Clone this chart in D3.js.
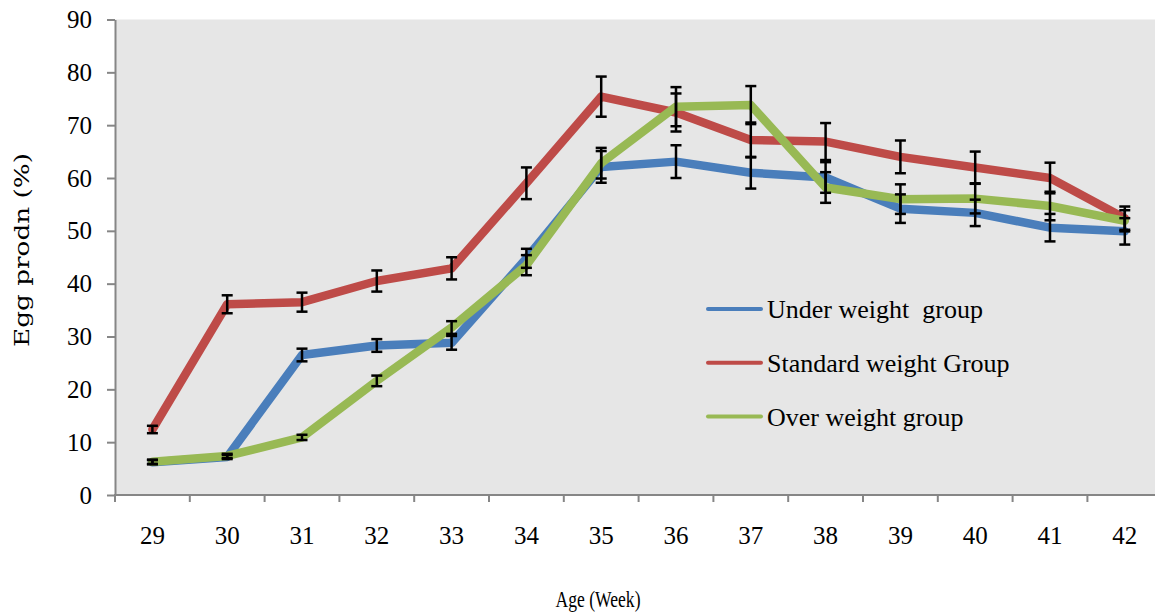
<!DOCTYPE html>
<html>
<head>
<meta charset="utf-8">
<script src="https://cdn.jsdelivr.net/npm/d3@7"></script>
<style>
  html, body { margin: 0; padding: 0; background: #ffffff; }
  svg { display: block; }
</style>
</head>
<body>
<svg id="chart" width="1155" height="612"></svg>
<script>
// Age in weeks (category axis)
const weeks = [29, 30, 31, 32, 33, 34, 35, 36, 37, 38, 39, 40, 41, 42];

// Egg production (%) per group
const underWeight    = [6.2, 7.2, 26.5, 28.3, 28.8, 44.8, 62.1, 63.1, 61.0, 60.1, 54.2, 53.4, 50.6, 49.9];
const standardWeight = [12.4, 36.1, 36.5, 40.5, 42.9, 59.0, 75.4, 72.4, 67.2, 66.9, 64.0, 62.0, 60.0, 52.4];
const overWeight     = [6.3, 7.4, 10.9, 21.6, 31.7, 43.5, 62.8, 73.5, 73.8, 58.2, 56.0, 56.1, 54.7, 51.9];

// Error bar half-widths (±)
const underErr    = [0.4, 0.4, 1.2, 1.2, 1.3, 1.8, 3.0, 3.1, 3.0, 2.9, 2.7, 2.5, 2.6, 2.5];
const standardErr = [0.7, 1.7, 1.8, 2.0, 2.1, 3.0, 3.8, 3.6, 3.3, 3.5, 3.1, 3.0, 2.9, 2.2];
const overErr     = [0.4, 0.4, 0.5, 1.0, 1.2, 1.9, 2.9, 3.7, 3.6, 2.9, 2.8, 2.8, 2.7, 2.0];

const seriesNames = ["Under weight  group", "Standard weight Group", "Over weight group"];
const yTicks = [0, 10, 20, 30, 40, 50, 60, 70, 80, 90];

const series = [
  { name: seriesNames[0], values: underWeight,    err: underErr,    color: "#4a7ebb" },
  { name: seriesNames[1], values: standardWeight, err: standardErr, color: "#be4b48" },
  { name: seriesNames[2], values: overWeight,     err: overErr,     color: "#98b954" }
];

const svg = d3.select("#chart");
const plotLeft = 115, plotTop = 19.5, plotBottom = 495, plotRight = 115 + 14 * 74.8;

const x = d3.scaleBand().domain(weeks).range([plotLeft, plotRight]).padding(0);
const y = d3.scaleLinear().domain([0, 90]).range([plotBottom, plotTop]);
const cx = d => x(d) + x.bandwidth() / 2;

// plot area
svg.append("rect")
  .attr("x", plotLeft).attr("y", plotTop)
  .attr("width", plotRight - plotLeft).attr("height", plotBottom - plotTop)
  .attr("fill", "#e6e6e6");

// y axis
const yAxis = svg.append("g")
  .attr("transform", `translate(${plotLeft},0)`)
  .call(d3.axisLeft(y).tickValues(yTicks).tickSize(8).tickPadding(15).tickSizeOuter(0));
yAxis.select(".domain").attr("stroke", "#868686").attr("stroke-width", 2);
yAxis.selectAll(".tick line").attr("stroke", "#868686").attr("stroke-width", 2);
yAxis.selectAll(".tick text")
  .attr("font-family", "'Liberation Serif', 'Times New Roman', serif")
  .attr("font-size", 25).attr("fill", "#000");

// x axis labels
const xAxis = svg.append("g")
  .attr("transform", `translate(0,${plotBottom})`)
  .call(d3.axisBottom(x).tickSize(0).tickPadding(31).tickSizeOuter(0));
xAxis.select(".domain").remove();
xAxis.selectAll(".tick text")
  .attr("font-family", "'Liberation Serif', 'Times New Roman', serif")
  .attr("font-size", 25).attr("fill", "#000");

// x axis line and tick marks at category boundaries
svg.append("line")
  .attr("x1", plotLeft - 1).attr("x2", plotRight)
  .attr("y1", plotBottom).attr("y2", plotBottom)
  .attr("stroke", "#868686").attr("stroke-width", 2);
svg.append("g").selectAll("line")
  .data(weeks)
  .join("line")
  .attr("x1", d => x(d)).attr("x2", d => x(d))
  .attr("y1", plotBottom).attr("y2", plotBottom + 7)
  .attr("stroke", "#868686").attr("stroke-width", 2);

// series lines
const line = d3.line()
  .x((d, i) => cx(weeks[i]))
  .y(d => y(d));

svg.append("g").selectAll("path")
  .data(series)
  .join("path")
  .attr("d", s => line(s.values))
  .attr("fill", "none")
  .attr("stroke", s => s.color)
  .attr("stroke-width", 8.5)
  .attr("stroke-linejoin", "round")
  .attr("stroke-linecap", "round");

// error bars
const capHalf = 5.5;
const eg = svg.append("g").attr("stroke", "#000").attr("stroke-width", 2.5);
series.forEach(s => {
  s.values.forEach((v, i) => {
    const xc = cx(weeks[i]);
    const y1 = y(v + s.err[i]), y2 = y(v - s.err[i]);
    eg.append("line").attr("x1", xc).attr("x2", xc).attr("y1", y1).attr("y2", y2);
    eg.append("line").attr("x1", xc - capHalf).attr("x2", xc + capHalf).attr("y1", y1).attr("y2", y1);
    eg.append("line").attr("x1", xc - capHalf).attr("x2", xc + capHalf).attr("y1", y2).attr("y2", y2);
  });
});

// legend
const legend = svg.append("g");
series.forEach((s, i) => {
  const ly = 309 + i * 53.8;
  legend.append("line")
    .attr("x1", 708).attr("x2", 761)
    .attr("y1", ly).attr("y2", ly)
    .attr("stroke", s.color).attr("stroke-width", 4).attr("stroke-linecap", "round");
  legend.append("text")
    .attr("x", 767).attr("y", ly + 9)
    .attr("font-family", "'Liberation Serif', 'Times New Roman', serif")
    .attr("font-size", 26).attr("fill", "#000")
    .attr("xml:space", "preserve")
    .text(s.name);
});

// axis titles
svg.append("text")
  .attr("transform", "translate(29,250) rotate(-90)")
  .attr("text-anchor", "middle")
  .attr("font-family", "'DejaVu Serif', serif")
  .attr("font-size", 21)
  .attr("textLength", 194).attr("lengthAdjust", "spacingAndGlyphs")
  .attr("fill", "#000")
  .text("Egg prodn (%)");

svg.append("text")
  .attr("x", 598).attr("y", 607)
  .attr("text-anchor", "middle")
  .attr("font-family", "'Liberation Serif', 'Times New Roman', serif")
  .attr("font-size", 24)
  .attr("textLength", 85).attr("lengthAdjust", "spacingAndGlyphs")
  .attr("fill", "#000")
  .text("Age (Week)");
</script>
</body>
</html>
